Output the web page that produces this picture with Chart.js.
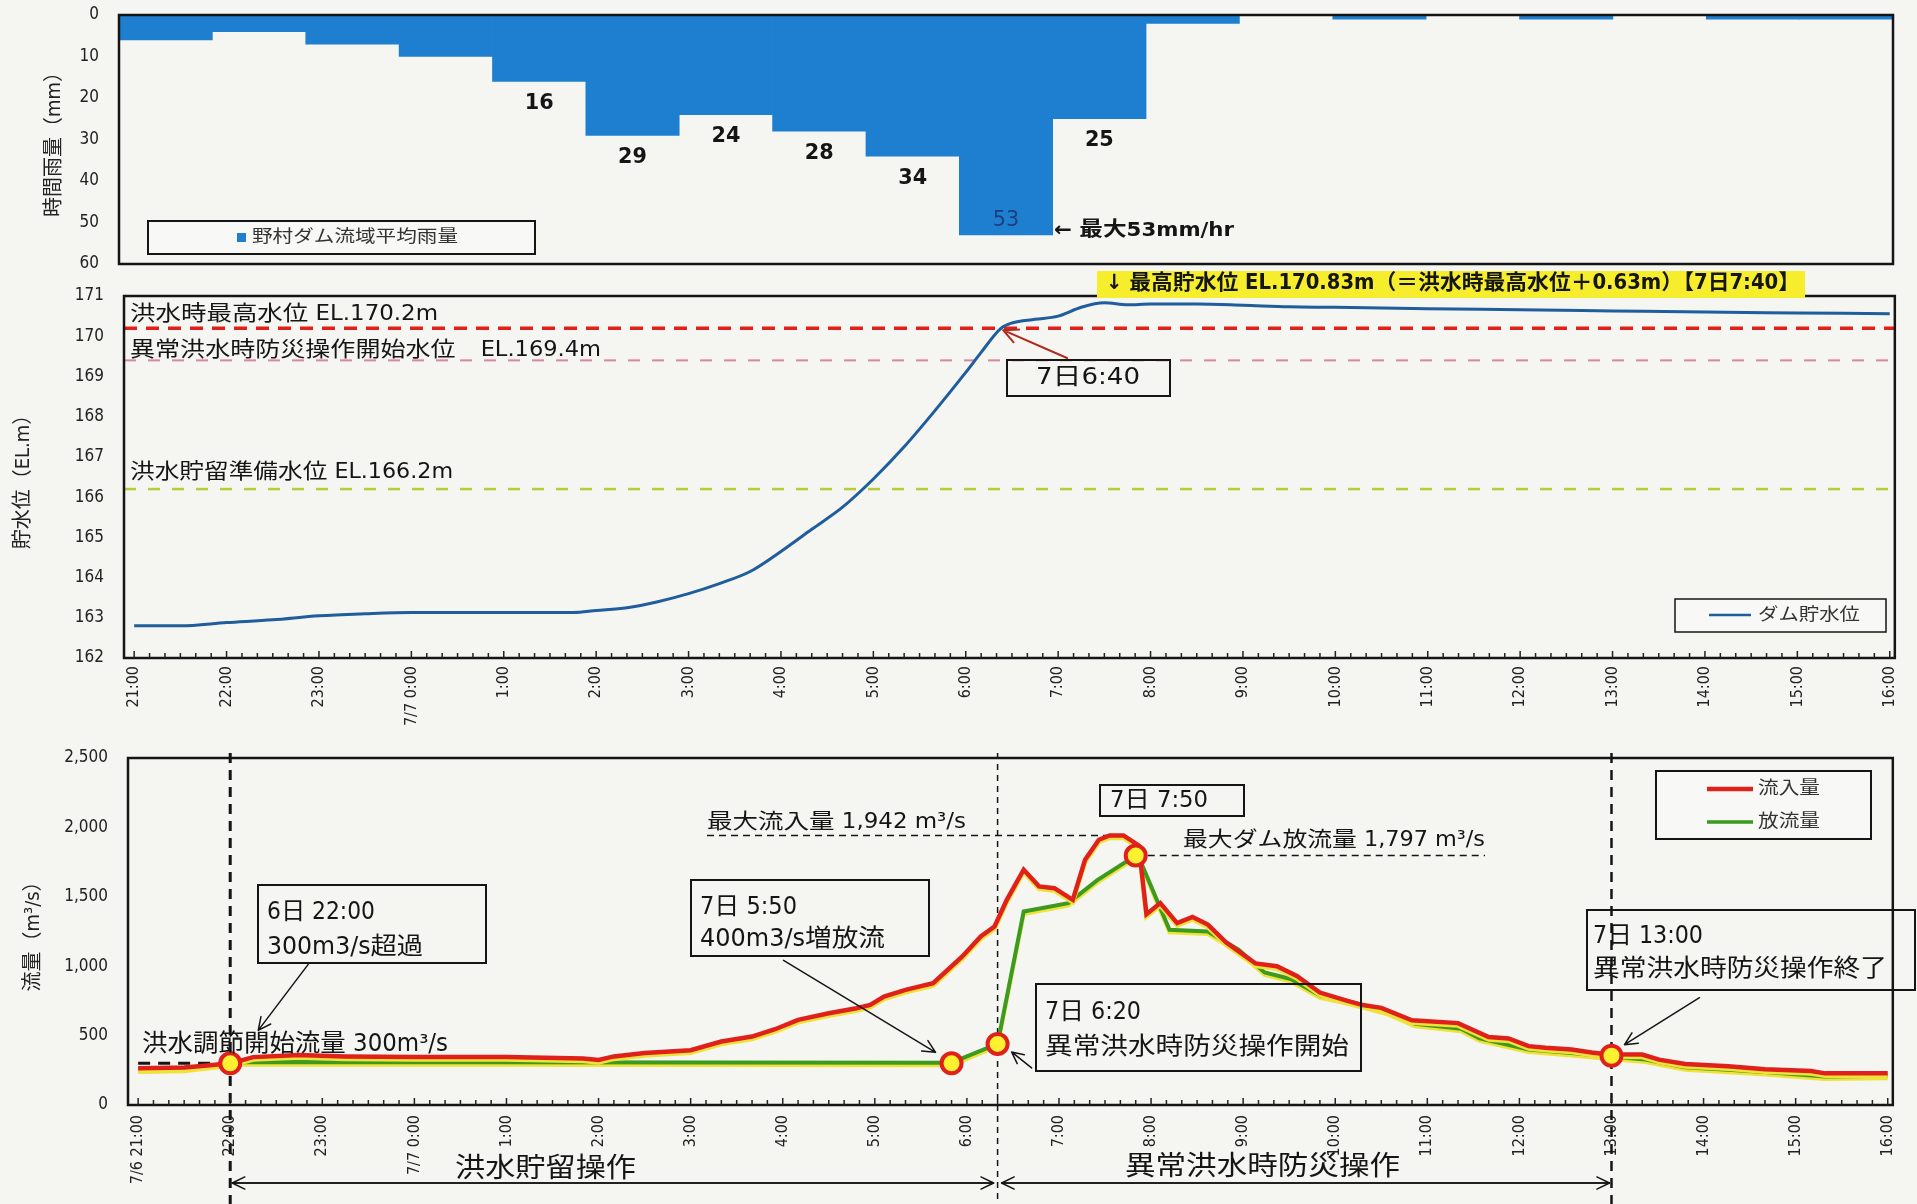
<!DOCTYPE html>
<html lang="ja">
<head>
<meta charset="utf-8">
<title>野村ダム 操作状況</title>
<script src="https://cdn.jsdelivr.net/npm/chart.js@4.4.1/dist/chart.umd.min.js"></script>
<style>
  html, body { margin: 0; padding: 0; background: #f5f5f2; }
  #page { position: relative; width: 1917px; height: 1204px; overflow: hidden; }
  #page canvas { position: absolute; left: 0; }
</style>
</head>
<body>
<div id="page">
  <canvas id="rainChart"></canvas>
  <canvas id="levelChart"></canvas>
  <canvas id="flowChart"></canvas>
</div>
<script>
// ---- data ----
const rainHours = ['21:00','22:00','23:00','0:00','1:00','2:00','3:00','4:00','5:00','6:00',
                   '7:00','8:00','9:00','10:00','11:00','12:00','13:00','14:00','15:00'];
const rainMM    = [6, 4, 7, 10, 16, 29, 24, 28, 34, 53, 25, 2, 0, 1, 0, 1, 0, 1, 1];
const rainTicks = [0, 10, 20, 30, 40, 50, 60];

const levelTimes = ['21:00','21:30','22:00','22:30','23:00','23:30','0:00','1:00','1:45','2:00',
                    '2:20','2:40','3:00','3:20','3:40','4:00','4:20','4:40','5:00','5:20',
                    '5:40','6:00','6:10','6:23','6:30','6:45','7:00','7:15','7:30','7:45',
                    '8:00','8:30','9:00','9:30','10:00','11:00','12:00','13:00','14:00','15:00','16:00'];
const levelEL    = [162.8, 162.8, 162.88, 162.95, 163.05, 163.1, 163.13, 163.13, 163.13, 163.18,
                    163.25, 163.4, 163.6, 163.85, 164.15, 164.65, 165.2, 165.75, 166.45, 167.25,
                    168.15, 169.1, 169.6, 170.2, 170.33, 170.42, 170.5, 170.72, 170.83, 170.78,
                    170.8, 170.8, 170.77, 170.73, 170.72, 170.68, 170.66, 170.63, 170.6, 170.58, 170.56];
const levelTicks = [162, 163, 164, 165, 166, 167, 168, 169, 170, 171];
const refLevels  = [170.2, 169.4, 166.2];
const refNames   = ['洪水時最高水位 EL.170.2m', '異常洪水時防災操作開始水位　EL.169.4m', '洪水貯留準備水位 EL.166.2m'];

const hourLabelsLevel = ['21:00','22:00','23:00','7/7 0:00','1:00','2:00','3:00','4:00','5:00','6:00',
                         '7:00','8:00','9:00','10:00','11:00','12:00','13:00','14:00','15:00','16:00'];
const hourLabelsFlow  = ['7/6 21:00','22:00','23:00','7/7 0:00','1:00','2:00','3:00','4:00','5:00','6:00',
                         '7:00','8:00','9:00','10:00','11:00','12:00','13:00','14:00','15:00','16:00'];

const inflowTimes = ['21:00','21:30','21:45','22:00','22:15','22:45','23:15','0:00','1:00','1:50',
                     '2:00','2:10','2:30','3:00','3:20','3:40','3:55','4:10','4:30','4:48',
                     '4:57','5:06','5:20','5:38','5:57','6:09','6:18','6:26','6:37','6:47',
                     '6:57','7:09','7:17','7:26','7:33','7:42','7:52','7:57','8:06','8:17',
                     '8:27','8:37','8:49','9:08','9:22','9:35','9:50','10:08','10:18','10:30',
                     '10:50','11:20','11:40','11:53','12:06','12:17','12:34','12:47','12:57','13:20',
                     '13:31','13:48','14:16','14:40','15:10','15:19','16:00'];
const inflow      = [265, 270, 285, 300, 345, 360, 350, 345, 345, 335,
                     325, 350, 375, 395, 457, 493, 546, 613, 661, 697,
                     721, 781, 829, 877, 1070, 1214, 1286, 1478, 1695, 1575,
                     1562, 1478, 1767, 1911, 1942, 1942, 1870, 1375, 1455, 1310,
                     1355, 1300, 1170, 1020, 1000, 930, 810, 750, 720, 700,
                     610, 590, 490, 479, 424, 412, 400, 378, 365, 363,
                     327, 295, 280, 258, 245, 228, 228];

const outflowTimes = ['21:00','21:30','21:45','22:00','22:10','5:50','6:20','6:37','7:06','7:25',
                      '7:50','7:53','8:12','8:37','8:57','9:14','9:31','9:50','10:10','10:34',
                      '10:52','11:22','11:34','12:06','12:34','12:57','13:22','13:48','14:16','14:40',
                      '15:19','16:00'];
const outflow      = [255, 262, 280, 300, 310, 305, 440, 1394, 1454, 1620,
                      1797, 1760, 1262, 1250, 1120, 955, 908, 790, 743, 672,
                      585, 550, 480, 400, 375, 351, 327, 271, 254, 237,
                      205, 210];

const eventTimes = ['22:00', '5:50', '6:20', '7:50', '13:00'];
const eventFlows = [300, 300, 440, 1797, 355];
const flowTicks  = [0, 500, 1000, 1500, 2000, 2500];
const controlStartFlow = 300;
const maxInflow  = 1942;
const maxOutflow = 1797;

// ---- look ----
const INK = '#151515';
const RAIN_BLUE = '#1e7fd0';
const LEVEL_BLUE = '#1f5d9c';
const RED = '#e0201a';
const GREEN = '#3b9a1f';
const FONT_NUM = '"Liberation Sans Narrow","DejaVu Sans Condensed","Liberation Sans",sans-serif';
const FONT_JP  = '"Liberation Sans Narrow","DejaVu Sans Condensed","Noto Sans CJK JP",sans-serif';
const X_MIN = -0.11, X_MAX = 19.055;

function hrs(t) {
  const [h, m] = t.split(':').map(Number);
  const v = h + m / 60;
  return v >= 21 ? v - 21 : v + 3;
}
function pts(times, vals) { return times.map((t, i) => ({ x: hrs(t), y: vals[i] })); }

function setup(id, top, height) {
  const c = document.getElementById(id);
  c.width = 1917; c.height = height;
  c.style.top = top + 'px'; c.style.width = '1917px'; c.style.height = height + 'px';
  return c;
}

// text squeezed/stretched horizontally to a target width (the scan is wide)
function label(ctx, s, x, y, size, o = {}) {
  ctx.save();
  ctx.font = `${o.weight || 'normal'} ${size}px ${o.family || FONT_JP}`;
  ctx.fillStyle = o.color || INK;
  ctx.textBaseline = 'middle';
  ctx.textAlign = 'left';
  const m = ctx.measureText(s).width;
  const sx = o.w ? o.w / m : (o.sx || 1);
  const x0 = o.align === 'center' ? x - m * sx / 2 : x;
  ctx.translate(x0, y);
  ctx.scale(sx, 1);
  ctx.fillText(s, 0, 0);
  ctx.restore();
  return m * sx;
}
function rect(ctx, x1, y1, x2, y2, lw = 2) {
  ctx.save(); ctx.strokeStyle = INK; ctx.lineWidth = lw;
  ctx.strokeRect(x1, y1, x2 - x1, y2 - y1); ctx.restore();
}
function line(ctx, x1, y1, x2, y2, color, lw, dash = []) {
  ctx.save(); ctx.strokeStyle = color; ctx.lineWidth = lw; ctx.setLineDash(dash);
  ctx.beginPath(); ctx.moveTo(x1, y1); ctx.lineTo(x2, y2); ctx.stroke(); ctx.restore();
}
function arrow(ctx, x1, y1, x2, y2, color = INK, lw = 1.5, head = 14) {
  const a = Math.atan2(y2 - y1, x2 - x1);
  ctx.save(); ctx.strokeStyle = color; ctx.lineWidth = lw; ctx.lineCap = 'round';
  ctx.beginPath(); ctx.moveTo(x1, y1); ctx.lineTo(x2, y2);
  for (const s of [-1, 1]) {
    ctx.moveTo(x2, y2);
    ctx.lineTo(x2 - head * Math.cos(a + s * 0.45), y2 - head * Math.sin(a + s * 0.45));
  }
  ctx.stroke(); ctx.restore();
}

const framePlugin = {
  id: 'frame',
  afterDatasetsDraw(chart) {
    const { ctx, chartArea: a } = chart;
    ctx.save(); ctx.strokeStyle = INK; ctx.lineWidth = 2.5;
    ctx.strokeRect(a.left, a.top, a.right - a.left, a.bottom - a.top); ctx.restore();
  }
};

// small inward ticks every 10 minutes along the time axis
const minorTicks = {
  id: 'minorTicks',
  afterDatasetsDraw(chart) {
    const { ctx, chartArea: a, scales: { x } } = chart;
    ctx.save(); ctx.strokeStyle = '#222'; ctx.lineWidth = 1.5;
    for (let i = 0; i <= 19 * 6; i++) {
      const px = x.getPixelForValue(i / 6);
      ctx.beginPath(); ctx.moveTo(px, a.bottom); ctx.lineTo(px, a.bottom - (i % 6 ? 5 : 7)); ctx.stroke();
    }
    ctx.restore();
  }
};

function timeAxis(labels, height, pad) {
  return {
    type: 'linear', min: X_MIN, max: X_MAX,
    grid: { display: false, drawTicks: false }, border: { display: false },
    afterBuildTicks: s => { s.ticks = labels.map((_, i) => ({ value: i })); },
    afterFit: s => { s.height = height; },
    ticks: { autoSkip: false, minRotation: 90, maxRotation: 90, padding: pad, color: '#222',
             font: { family: FONT_NUM, size: 16 }, callback: v => labels[v] }
  };
}
function valueAxis(ticks, min, max, width, title, fmt, reverse = false) {
  return {
    min, max, reverse,
    grid: { display: false, drawTicks: false }, border: { display: false },
    afterBuildTicks: s => { s.ticks = ticks.map(v => ({ value: v })); },
    // fixed width, and no extra room reserved for the end labels
    afterFit: s => { s.width = width; s.paddingTop = 0; s.paddingBottom = 0; },
    ticks: { padding: 20, color: '#222', font: { family: FONT_NUM, size: 17 }, callback: fmt },
    title: { display: true, text: title, color: '#222', padding: 0, font: { family: FONT_JP, size: 20 } }
  };
}

// ---- 1. hourly rainfall ----
const rainNotes = {
  id: 'rainNotes',
  afterDraw(chart) {
    const { ctx } = chart;
    const bars = chart.getDatasetMeta(0).data;
    rainMM.forEach((v, i) => {
      if (v < 16) return;
      const b = bars[i];
      if (v === Math.max(...rainMM)) {
        label(ctx, String(v), b.x, b.y - 14, 21, { family: FONT_NUM, align: 'center', color: '#1b3f7c', sx: 1.1 });
      } else {
        label(ctx, String(v), b.x, b.y + 22, 21, { family: FONT_NUM, weight: 'bold', align: 'center', sx: 1.1 });
      }
    });
    label(ctx, '← 最大53mm/hr', 1054, 231, 20, { weight: 'bold', w: 180 });
    ctx.save(); ctx.fillStyle = '#f8f8f6'; ctx.fillRect(148, 221, 387, 33); ctx.restore();
    rect(ctx, 148, 221, 535, 254, 2);
    ctx.save(); ctx.fillStyle = RAIN_BLUE; ctx.fillRect(237, 233, 9, 9); ctx.restore();
    label(ctx, '野村ダム流域平均雨量', 252, 238, 17, { color: '#333', w: 206 });
  }
};

new Chart(setup('rainChart', 0, 290), {
  type: 'bar',
  data: {
    labels: rainHours,
    datasets: [{ label: '野村ダム流域平均雨量', data: rainMM, backgroundColor: RAIN_BLUE,
                 barPercentage: 1, categoryPercentage: 1, borderWidth: 0 }]
  },
  options: {
    responsive: false, animation: false,
    layout: { padding: { left: 43, right: 24, top: 15, bottom: 26 } },
    plugins: { legend: { display: false }, tooltip: { enabled: false } },
    scales: {
      x: { display: false },
      y: valueAxis(rainTicks, 0, 60, 76, '時間雨量（mm）', v => v, true)
    }
  },
  plugins: [framePlugin, rainNotes]
});

// ---- 2. reservoir level ----
const levelNotes = {
  id: 'levelNotes',
  beforeDatasetsDraw(chart) {
    const { ctx, chartArea: a, scales: { y } } = chart;
    const styles = [[RED, 3.5, [13, 9]], ['#d6899f', 2, [12, 12]], ['#b8cc3a', 2.5, [12, 12]]];
    refLevels.forEach((v, i) => {
      const py = y.getPixelForValue(v);
      line(ctx, a.left, py, a.right, py, ...styles[i]);
    });
  },
  afterDraw(chart) {
    const { ctx, scales: { x, y } } = chart;
    const widths = [308, 471, 323];
    const ys = [53, 89, 211];
    refNames.forEach((s, i) => label(ctx, s, 130, ys[i], 21, { w: widths[i] }));

    // peak level note
    ctx.save(); ctx.fillStyle = '#f6ee2c'; ctx.fillRect(1097, 9, 708, 27); ctx.restore();
    label(ctx, '↓ 最高貯水位 EL.170.83m（＝洪水時最高水位＋0.63m）【7日7:40】', 1106, 22, 21,
          { weight: 'bold', w: 694 });

    // reaching the flood max level
    rect(ctx, 1007, 98, 1170, 134, 2);
    label(ctx, '7日6:40', 1088, 116, 23, { align: 'center', w: 104 });
    arrow(ctx, 1067, 96, x.getPixelForValue(hrs('6:23')) + 2, y.getPixelForValue(170.2) + 2, '#b02a1e', 2, 16);

    // legend
    ctx.save(); ctx.fillStyle = '#f8f8f6'; ctx.fillRect(1675, 337, 211, 33); ctx.restore();
    rect(ctx, 1675, 337, 1886, 370, 1.5);
    line(ctx, 1709, 353, 1751, 353, LEVEL_BLUE, 2.5);
    label(ctx, 'ダム貯水位', 1758, 354, 17, { color: '#333', w: 102 });
  }
};

new Chart(setup('levelChart', 262, 483), {
  type: 'line',
  data: {
    datasets: [{ label: 'ダム貯水位', data: pts(levelTimes, levelEL), borderColor: LEVEL_BLUE,
                 borderWidth: 3, pointRadius: 0, cubicInterpolationMode: 'monotone' }]
  },
  options: {
    responsive: false, animation: false,
    layout: { padding: { left: 12, right: 19, top: 34, bottom: 0 } },
    plugins: { legend: { display: false }, tooltip: { enabled: false } },
    scales: {
      x: timeAxis(hourLabelsLevel, 87, 8),
      y: valueAxis(levelTicks, 162, 171, 112, '貯水位（EL.m）', v => v)
    }
  },
  plugins: [framePlugin, minorTicks, levelNotes]
});

// ---- 3. inflow / outflow ----
const glow = {
  id: 'glow',
  beforeDatasetDraw(chart, args) {
    if (!chart.data.datasets[args.index].glow) return;
    const ctx = chart.ctx;
    ctx.save(); ctx.shadowColor = '#efe23a'; ctx.shadowOffsetY = 2.5; ctx.shadowBlur = 0;
  },
  afterDatasetDraw(chart, args) {
    if (chart.data.datasets[args.index].glow) chart.ctx.restore();
  }
};

const flowNotes = {
  id: 'flowNotes',
  beforeDatasetsDraw(chart) {
    const { ctx, chartArea: a, scales: { x, y } } = chart;
    const H = chart.height;
    const xs = eventTimes.filter((t, i) => i === 0 || i === 2 || i === 4).map(t => x.getPixelForValue(hrs(t)));
    line(ctx, xs[0], a.top - 5, xs[0], H, INK, 3, [10, 7]);
    line(ctx, xs[1], a.top - 5, xs[1], H, INK, 1.5, [6, 5]);
    line(ctx, xs[2], a.top - 5, xs[2], H, INK, 2.5, [10, 7]);
    const y300 = y.getPixelForValue(controlStartFlow);
    line(ctx, x.getPixelForValue(0), y300, x.getPixelForValue(hrs('22:00')), y300, INK, 3, [12, 8]);
    const iMax = inflow.indexOf(maxInflow);
    const yIn = y.getPixelForValue(maxInflow);
    line(ctx, 707, yIn, x.getPixelForValue(hrs(inflowTimes[iMax])), yIn, INK, 1.5, [7, 5]);
    const yOut = y.getPixelForValue(maxOutflow);
    line(ctx, x.getPixelForValue(hrs('7:50')) + 12, yOut, 1485, yOut, INK, 1.5, [7, 5]);
  },
  afterDraw(chart) {
    const { ctx, scales: { x, y } } = chart;
    const mk = eventTimes.map((t, i) => ({ x: x.getPixelForValue(hrs(t)), y: y.getPixelForValue(eventFlows[i]) }));

    // 22:00
    rect(ctx, 258, 145, 486, 223);
    label(ctx, '6日 22:00', 267, 173, 24, { w: 108 });
    label(ctx, '300m3/s超過', 267, 208, 24, { w: 156 });
    arrow(ctx, mk[0].x + 78, mk[0].y - 99, mk[0].x + 28, mk[0].y - 33);
    label(ctx, '洪水調節開始流量 300m³/s', 142, 305, 24, { w: 306 });

    // 5:50
    rect(ctx, 691, 140, 929, 216);
    label(ctx, '7日 5:50', 700, 168, 24, { w: 97 });
    label(ctx, '400m3/s増放流', 700, 200, 24, { w: 185 });
    arrow(ctx, mk[1].x - 168, mk[1].y - 103, mk[1].x - 16, mk[1].y - 11);

    // 6:20
    rect(ctx, 1036, 244, 1361, 331);
    label(ctx, '7日 6:20', 1045, 273, 24, { w: 96 });
    label(ctx, '異常洪水時防災操作開始', 1045, 308, 24, { w: 304 });
    arrow(ctx, mk[2].x + 34, mk[2].y + 24, mk[2].x + 14, mk[2].y + 8, INK, 1.5, 13);

    // 7:50 and peaks
    rect(ctx, 1100, 45, 1244, 76);
    label(ctx, '7日 7:50', 1110, 61, 23, { w: 98 });
    label(ctx, '最大流入量 1,942 m³/s', 707, y.getPixelForValue(maxInflow) - 13, 21, { w: 259 });
    label(ctx, '最大ダム放流量 1,797 m³/s', 1183, y.getPixelForValue(maxOutflow) - 15, 21, { w: 302 });

    // 13:00
    rect(ctx, 1587, 170, 1915, 250);
    label(ctx, '7日 13:00', 1593, 197, 24, { w: 110 });
    label(ctx, '異常洪水時防災操作終了', 1593, 230, 24, { w: 294 });
    arrow(ctx, mk[4].x + 88, mk[4].y - 58, mk[4].x + 13, mk[4].y - 11);

    // legend
    ctx.save(); ctx.fillStyle = '#f8f8f6'; ctx.fillRect(1656, 31, 215, 68); ctx.restore();
    rect(ctx, 1656, 31, 1871, 99);
    line(ctx, 1707, 49, 1753, 49, RED, 4.5);
    line(ctx, 1707, 82, 1753, 82, GREEN, 3.5);
    label(ctx, '流入量', 1758, 49, 18, { color: '#333', w: 62 });
    label(ctx, '放流量', 1758, 82, 18, { color: '#333', w: 62 });

    // operation periods
    const yb = 443;
    arrow(ctx, mk[2].x - 4, yb, mk[0].x + 2, yb, INK, 1.5, 14);
    arrow(ctx, mk[0].x + 2, yb, mk[2].x - 4, yb, INK, 1.5, 14);
    arrow(ctx, mk[4].x - 2, yb, mk[2].x + 4, yb, INK, 1.5, 14);
    arrow(ctx, mk[2].x + 4, yb, mk[4].x - 2, yb, INK, 1.5, 14);
    label(ctx, '洪水貯留操作', 455, 430, 27, { w: 181 });
    label(ctx, '異常洪水時防災操作', 1125, 428, 27, { w: 275 });
  }
};

new Chart(setup('flowChart', 740, 464), {
  type: 'line',
  data: {
    datasets: [
      { label: 'events', data: pts(eventTimes, eventFlows), showLine: false, pointRadius: 10,
        pointBorderWidth: 4, pointBackgroundColor: '#fff030', pointBorderColor: RED, order: 0 },
      { label: '流入量', data: pts(inflowTimes, inflow), borderColor: RED, borderWidth: 4.5,
        pointRadius: 0, tension: 0, glow: true, order: 1 },
      { label: '放流量', data: pts(outflowTimes, outflow), borderColor: GREEN, borderWidth: 4,
        pointRadius: 0, tension: 0, glow: true, order: 2 }
    ]
  },
  options: {
    responsive: false, animation: false,
    layout: { padding: { left: 22, right: 19, top: 18, bottom: 0 } },
    plugins: { legend: { display: false }, tooltip: { enabled: false } },
    scales: {
      x: timeAxis(hourLabelsFlow, 99, 10),
      y: valueAxis(flowTicks, 0, 2500, 106, '流量（m³/s）', v => v.toLocaleString('en-US'))
    }
  },
  plugins: [glow, framePlugin, minorTicks, flowNotes]
});
</script>
</body>
</html>
